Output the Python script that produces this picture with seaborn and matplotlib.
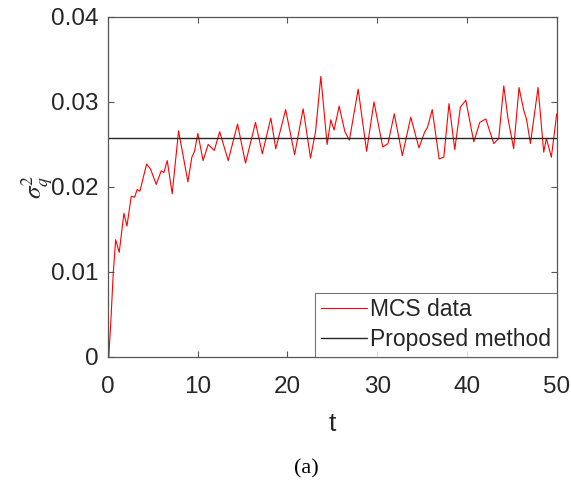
import numpy as np
import pandas as pd
import matplotlib
matplotlib.use('Agg')
import matplotlib.pyplot as plt
import seaborn as sns

# time points
t = [0, 0.1, 0.37, 0.59, 0.86, 1.26, 1.78, 2.12, 2.6, 2.97, 3.26, 3.56,
     4.31, 4.75, 5.38, 5.94, 6.24, 6.61, 7.16, 7.87, 8.91, 9.35, 9.65,
     10.02, 10.6, 11.17, 11.85, 12.45, 13.4, 14.44, 15.33, 16.44, 17.2,
     18.15, 18.7, 19.8, 20.8, 21.75, 22.57, 23.13, 23.72, 24.42, 24.83,
     25.2, 25.76, 26.4, 26.9, 27.88, 28.82, 29.64, 30.62, 31.2, 31.9,
     32.8, 33.74, 34.65, 35.3, 35.6, 36.13, 36.9, 37.42, 38.0, 38.64,
     39.27, 39.87, 40.76, 41.43, 42.1, 42.98, 43.54, 44.1, 44.58, 45.2,
     45.8, 46.33, 46.63, 47.07, 47.92, 48.55, 48.85, 49.4, 50.0]

# MCS variance
mcs = [0, 0.0, 0.0051, 0.0098, 0.0138, 0.0123, 0.0169, 0.0154, 0.0189, 0.0188,
       0.0197, 0.0195, 0.0227, 0.0221, 0.0203, 0.0219, 0.0217, 0.0231, 0.0192,
       0.0266, 0.0206, 0.0235, 0.0242, 0.0263, 0.0231, 0.0250, 0.0243, 0.0265,
       0.0231, 0.0274, 0.0228, 0.0276, 0.0239, 0.0281, 0.0245, 0.0291, 0.0238,
       0.0292, 0.0234, 0.0265, 0.0330, 0.0250, 0.0279, 0.0267, 0.0295, 0.0265,
       0.0255, 0.0315, 0.0242, 0.0300, 0.0247, 0.0251, 0.0286, 0.0237, 0.0282,
       0.0246, 0.0265, 0.0270, 0.0291, 0.0233, 0.0235, 0.0298, 0.0244, 0.0294,
       0.0302, 0.0253, 0.0276, 0.0280, 0.0251, 0.0257, 0.0319, 0.0280, 0.0245,
       0.0317, 0.0290, 0.0280, 0.0251, 0.0317, 0.0241, 0.0257, 0.0235, 0.0286]

# proposed method (constant)
t_prop = [0, 50]
proposed = [0.02579, 0.02579]

sns.set_theme(style='white')
plt.rcParams['font.family'] = ['Liberation Sans', 'DejaVu Sans']
plt.rcParams['mathtext.fontset'] = 'stix'

df_mcs = pd.DataFrame({'t': t, 'var': mcs})
df_prop = pd.DataFrame({'t': t_prop, 'var': proposed})

fig = plt.figure(figsize=(5.71, 4.84), dpi=100)
ax = fig.add_axes([0.189, 0.2624, 0.786, 0.7026])

sns.lineplot(data=df_mcs, x='t', y='var', ax=ax, color='red', lw=0.8,
             solid_joinstyle='round', label='MCS data')
sns.lineplot(data=df_prop, x='t', y='var', ax=ax, color='#262626', lw=1.0, label='Proposed method')

ax.set_xlim(0, 50)
ax.set_ylim(0, 0.04)
ax.set_xticks([0, 10, 20, 30, 40, 50])
ax.set_yticks([0, 0.01, 0.02, 0.03, 0.04])
ax.set_yticklabels(['0', '0.01', '0.02', '0.03', '0.04'])

for s in ax.spines.values():
    s.set_color('#555555')
    s.set_linewidth(0.9)
ax.tick_params(direction='in', length=4, width=0.8, color='#555555',
               labelsize=17.5, labelcolor='#262626', top=True, right=True,
               bottom=True, left=True)
ax.tick_params(axis='x', pad=14)
ax.tick_params(axis='y', pad=7)

ax.set_xlabel('t', fontsize=19, color='#262626', labelpad=10)
ax.set_ylabel(r'$\sigma_q^2$', fontsize=18, color='#262626', labelpad=-3)

leg = ax.legend(loc='lower right', fontsize=16.5, frameon=True, fancybox=False,
                borderaxespad=0, handlelength=2.0, handletextpad=0.15,
                borderpad=0.25, labelspacing=0.3)
leg.get_frame().set_edgecolor('#555555')
leg.get_frame().set_linewidth(0.8)
for txt in leg.get_texts():
    txt.set_color('#262626')

fig.text(306 / 571, 1 - 469 / 484, '(a)', fontsize=16, family='Liberation Serif',
         ha='center', va='center', color='black')

fig.savefig('out.png', dpi=100)
